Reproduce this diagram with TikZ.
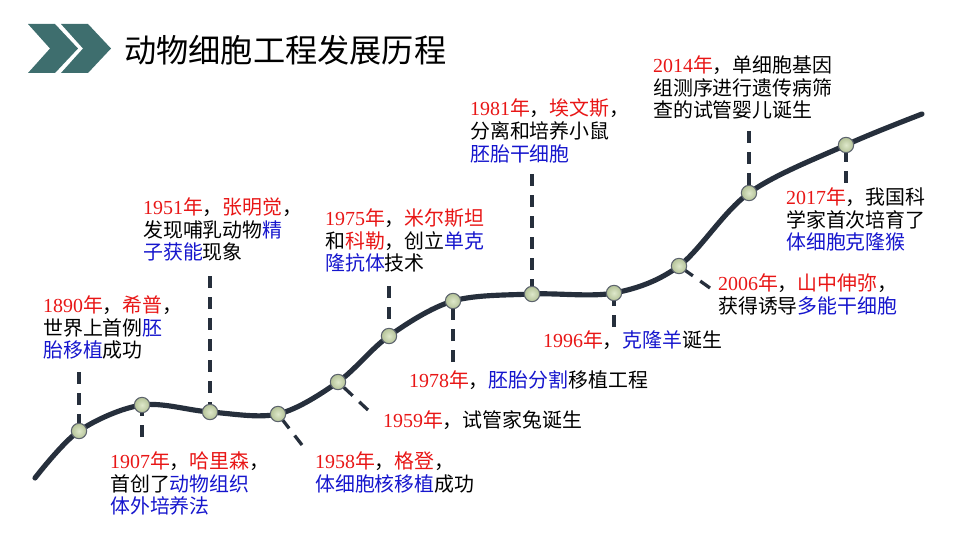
\documentclass[tikz,border=0pt]{standalone}
\usepackage{fontspec}
\setmainfont{Liberation Serif}
\newfontfamily\cjk{Noto Sans CJK SC}
\usepackage{tikz}
\usetikzlibrary{positioning}

\definecolor{chevron}{RGB}{62,110,110}
\definecolor{curvecol}{RGB}{38,47,60}
\definecolor{dotfill}{RGB}{200,216,168}
\definecolor{tred}{RGB}{232,22,22}
\definecolor{tblue}{RGB}{22,22,205}

\newcommand{\yr}[1]{\textcolor{tred}{{\rmfamily #1}年}}
\newcommand{\rd}[1]{\textcolor{tred}{#1}}
\newcommand{\bl}[1]{\textcolor{tblue}{#1}}

\tikzset{
    curve/.style={line width=4.4pt, color=curvecol, line cap=round},
    guide/.style={line width=2.8pt, color=curvecol, dash pattern=on 0.36cm off 0.27cm},
    dot/.style={circle, draw=curvecol!75, line width=0.9pt, inner color=dotfill!60, outer color=dotfill!90!black, minimum size=0.46cm, inner sep=0pt},
    lbl/.style={anchor=north west, inner sep=0pt, align=left, font=\cjk\fontsize{17}{19.6}\selectfont}
}

\begin{document}
\begin{tikzpicture}[x=0.03cm, y=-0.03cm]
    \useasboundingbox (0,0) rectangle (960,540);

    % Header chevrons and title
    \foreach \s in {0,33}
        \fill[chevron, xshift=\s*0.03cm] (28,24) -- (55,24) -- (78,48.5) -- (55,73) -- (28,73) -- (50,48.5) -- cycle;
    \node[anchor=west, inner sep=0pt, font=\cjk\fontsize{27.5}{30}\selectfont] (title) at (124,50) {动物细胞工程发展历程};

    % Points on the time line
    \coordinate (start) at (35,478);
    \coordinate (stop) at (922,114);
    \foreach \n/\x/\y in {1/79/431, 2/142/405, 3/210/412, 4/278/414, 5/338/382, 6/389/336,
                          7/453/301, 8/532/294, 9/614/293, 10/679/266, 11/749/193, 12/846/145}
        \coordinate (c\n) at (\x,\y);

    % Ends of the dashed guides
    \foreach \n/\x/\y in {1/79/372, 2/142/437, 3/210/276, 4/302/445, 5/368/410, 6/389/286,
                          7/453/362, 8/532/174, 9/614/327, 10/710/288, 11/749/131, 12/846/183}
        \coordinate (e\n) at (\x,\y);

    % Draw the time line
    \draw[curve] plot[smooth, tension=0.55] coordinates {(start) (c1) (c2) (c3) (c4) (c5) (c6)
        (c7) (c8) (c9) (c10) (c11) (c12) (stop)};

    % Dashed guides
    \foreach \n in {1,...,12}
        \draw[guide] (e\n) -- (c\n);

    % Dots
    \foreach \n in {1,...,12}
        \node[dot] (p\n) at (c\n) {};

    % Labels
    \node[lbl] (l1) at (43,295) {\yr{1890}，\rd{希普}，\\世界上首例\bl{胚}\\\bl{胎移植}成功};
    \node[lbl] (l2) at (110,451) {\yr{1907}，\rd{哈里森}，\\首创了\bl{动物组织}\\\bl{体外培养法}};
    \node[lbl] (l3) at (143,197) {\yr{1951}，\rd{张明觉}，\\发现哺乳动物\bl{精}\\\bl{子获能}现象};
    \node[lbl] (l4) at (315,451) {\yr{1958}，\rd{格登}，\\\bl{体细胞核移植}成功};
    \node[lbl] (l5) at (383,410) {\yr{1959}，试管家兔诞生};
    \node[lbl] (l6) at (325,208) {\yr{1975}，\rd{米尔斯坦}\\和\rd{科勒}，创立\bl{单克}\\\bl{隆抗体}技术};
    \node[lbl] (l7) at (409,370) {\yr{1978}，\bl{胚胎分割}移植工程};
    \node[lbl] (l8) at (470,98) {\yr{1981}，\rd{埃文斯}，\\分离和培养小鼠\\\bl{胚胎干细胞}};
    \node[lbl] (l9) at (543,330) {\yr{1996}，\bl{克隆羊}诞生};
    \node[lbl] (l10) at (718,273) {\yr{2006}，\rd{山中伸弥}，\\获得诱导\bl{多能干细胞}};
    \node[lbl] (l11) at (653,55) {\yr{2014}，单细胞基因\\组测序进行遗传病筛\\查的试管婴儿诞生};
    \node[lbl] (l12) at (786,187) {\yr{2017}，我国科\\学家首次培育了\\\bl{体细胞克隆猴}};
\end{tikzpicture}
\end{document}
